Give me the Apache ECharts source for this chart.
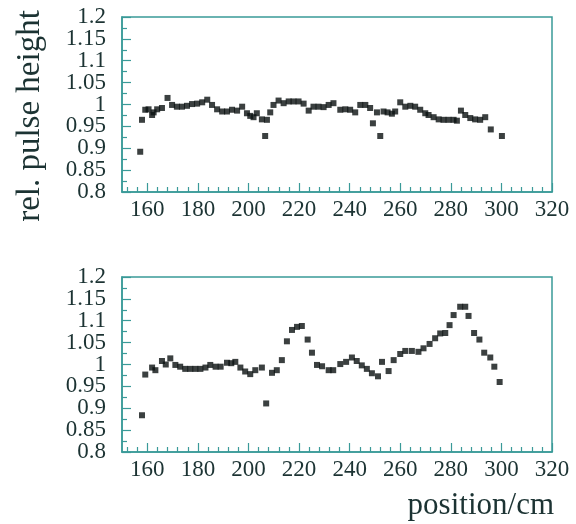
<!DOCTYPE html>
<html>
<head>
<meta charset="utf-8">
<script src="https://cdn.jsdelivr.net/npm/echarts@6/dist/echarts.min.js"></script>
<style>
html,body{margin:0;padding:0;background:#fff;}
#c{width:576px;height:524px;}
</style>
</head>
<body>
<div id="c"></div>
<script>
// ---- data ----
const topX = [157.2,157.9,159.2,160.5,161.9,162.5,163.9,165.8,168.0,169.8,171.7,173.7,175.7,177.7,179.7,181.7,183.7,185.6,187.6,189.6,191.5,193.5,195.5,197.5,199.4,200.7,202.0,203.3,205.3,206.6,207.3,208.6,209.9,211.9,213.9,215.9,217.8,219.8,221.8,223.8,225.7,227.7,229.7,231.7,233.6,236.3,238.3,240.2,242.2,244.2,246.2,248.1,249.2,250.8,252.1,253.4,255.0,256.7,258.0,260.0,262.0,264.0,265.9,267.9,269.9,271.2,273.2,275.2,277.1,279.1,281.1,282.4,284.0,285.7,287.7,289.6,291.6,293.6,295.8,300.2];
const topY = [0.892,0.965,0.988,0.989,0.976,0.982,0.989,0.992,1.015,0.999,0.995,0.995,0.997,1.001,1.002,1.005,1.011,0.999,0.989,0.984,0.984,0.988,0.986,0.995,0.980,0.974,0.971,0.980,0.966,0.928,0.965,0.982,0.999,1.009,1.003,1.007,1.007,1.007,1.002,0.986,0.995,0.995,0.994,0.999,1.003,0.988,0.989,0.988,0.982,0.999,0.999,0.992,0.957,0.982,0.928,0.984,0.982,0.979,0.984,1.005,0.995,0.997,0.995,0.988,0.980,0.976,0.971,0.966,0.965,0.965,0.965,0.963,0.986,0.976,0.969,0.966,0.965,0.971,0.943,0.928];

const botX = [157.9,159.2,161.9,163.2,165.8,167.3,169.1,171.1,173.0,175.0,177.0,179.0,181.0,183.0,184.9,187.0,189.0,191.5,193.2,194.8,196.8,198.7,200.7,202.7,205.3,207.0,209.3,211.2,213.2,215.2,217.2,219.2,221.1,223.4,225.1,227.1,229.1,231.7,233.5,236.3,238.6,240.9,242.8,244.8,246.8,248.8,251.2,252.8,255.4,257.4,260.0,262.0,264.6,267.2,269.2,271.6,273.8,275.8,277.8,279.5,281.1,283.7,285.7,287.0,289.2,291.3,293.2,295.6,297.2,299.3];
const botY = [0.884,0.977,0.993,0.987,1.008,1.000,1.014,0.999,0.995,0.990,0.990,0.990,0.990,0.993,0.999,0.995,0.995,1.004,1.003,1.006,0.993,0.984,0.978,0.987,0.993,0.911,0.981,0.987,1.010,1.053,1.079,1.086,1.088,1.057,1.027,0.999,0.996,0.987,0.987,1.001,1.006,1.016,1.008,0.998,0.990,0.980,0.973,1.006,0.985,1.010,1.024,1.031,1.031,1.029,1.037,1.047,1.060,1.071,1.072,1.090,1.113,1.132,1.132,1.111,1.072,1.057,1.027,1.016,0.995,0.960];

const xMajor = [160,180,200,220,240,260,280,300,320];
const xMinor = [152,156,164,168,172,176,184,188,192,196,204,208,212,216,224,228,232,236,244,248,252,256,264,268,272,276,284,288,292,296,304,308,312,316];
const yMajor = [0.8,0.85,0.9,0.95,1,1.05,1.1,1.15,1.2];
const yLabelsA = [0.8,0.9,1,1.1,1.2];
const yLabelsB = [0.85,0.95,1.05,1.15];
const yMinor = [0.825,0.875,0.925,0.975,1.025,1.075,1.125,1.175];
const yTitle = 'rel. pulse height';
const xTitle = 'position/cm';

// ---- styling ----
const teal = '#3a9a98';
const txt = '#1c3333';
const FONT = '"Liberation Serif", "DejaVu Serif", serif';

function zip(a,b){ return a.map((v,i)=>[v,b[i]]); }

const grids = [
  {left:122, right:24, top:17, height:175},
  {left:122, right:24, top:277, height:175}
].map(g => Object.assign({show:true, borderColor:teal, borderWidth:1.5, backgroundColor:'transparent'}, g));

function xAxes(gi){
  return [
    {type:'value', gridIndex:gi, min:150, max:320, position:'bottom',
     axisLine:{show:true, lineStyle:{color:teal, width:1.5}},
     axisTick:{show:true, inside:true, length:9, customValues:xMajor, lineStyle:{color:teal, width:1.2}},
     axisLabel:{show:true, customValues:xMajor, color:txt, fontFamily:FONT, fontSize:23, margin:6, hideOverlap:false},
     splitLine:{show:false}},
    {type:'value', gridIndex:gi, min:150, max:320, position:'bottom',
     axisLine:{show:false},
     axisTick:{show:true, inside:true, length:5, customValues:xMinor, lineStyle:{color:teal, width:1.2}},
     axisLabel:{show:false},
     splitLine:{show:false}}
  ];
}
const yLab = {color:txt, fontFamily:FONT, fontSize:23, margin:16, hideOverlap:false,
  showMinLabel:true, showMaxLabel:true, formatter: v => String(Math.round(v*100)/100)};
function yAxes(gi){
  return [
    {type:'value', gridIndex:gi, min:0.8, max:1.2, position:'left',
     axisLine:{show:true, lineStyle:{color:teal, width:1.5}},
     axisTick:{show:true, inside:true, length:9, customValues:yMajor, lineStyle:{color:teal, width:1.2}},
     axisLabel:Object.assign({show:true, customValues:yLabelsA}, yLab),
     splitLine:{show:false}},
    {type:'value', gridIndex:gi, min:0.8, max:1.2, position:'left',
     axisLine:{show:false},
     axisTick:{show:true, inside:true, length:5, customValues:yMinor, lineStyle:{color:teal, width:1.2}},
     axisLabel:Object.assign({show:true, customValues:yLabelsB}, yLab),
     splitLine:{show:false}}
  ];
}

const chart = echarts.init(document.getElementById('c'), null, {renderer:'canvas'});
chart.setOption({
  animation:false,
  backgroundColor:'#ffffff',
  grid: grids,
  xAxis: [...xAxes(0), ...xAxes(1)],
  yAxis: [...yAxes(0), ...yAxes(1)],
  series: [
    {type:'scatter', xAxisIndex:0, yAxisIndex:0, data:zip(topX,topY), symbol:'rect', symbolSize:6, itemStyle:{color:'#0a1010'}},
    {type:'scatter', xAxisIndex:2, yAxisIndex:2, data:zip(botX,botY), symbol:'rect', symbolSize:6, itemStyle:{color:'#0a1010'}}
  ],
  graphic: [
    {type:'text', x:30, y:116, rotation:Math.PI/2,
     style:{text:yTitle, fill:txt, font:'33px ' + FONT, align:'center', verticalAlign:'middle'}},
    {type:'text', x:554, y:506,
     style:{text:xTitle, fill:txt, font:'31px ' + FONT, align:'right', verticalAlign:'middle'}}
  ]
});
</script>
</body>
</html>
